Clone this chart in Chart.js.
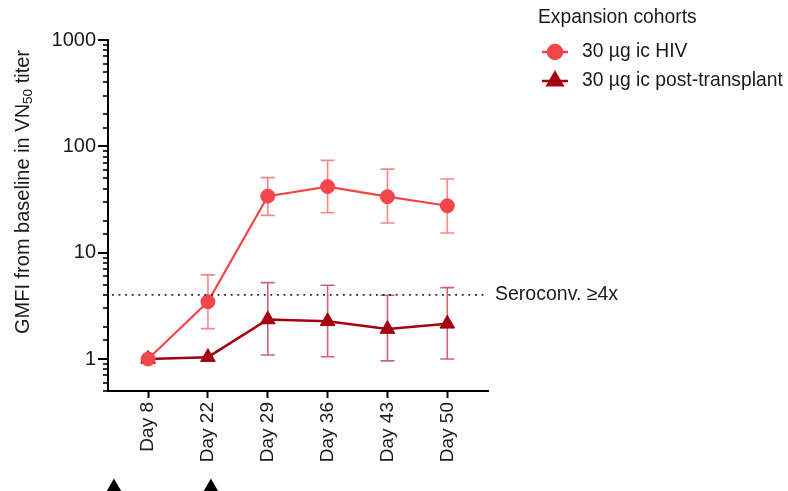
<!DOCTYPE html>
<html>
<head>
<meta charset="utf-8">
<script src="https://cdn.jsdelivr.net/npm/chart.js@4"></script>
<style>
  html, body { margin: 0; background: #fff; }
</style>
</head>
<body>
<canvas id="chart" width="788" height="491"></canvas>
<script>
const days = ['Day 8', 'Day 22', 'Day 29', 'Day 36', 'Day 43', 'Day 50'];
const hivMean = [1.0, 3.45, 34.0, 41.8, 33.6, 27.6];
const hivLow  = [null, 1.93, 22.4, 23.7, 19.0, 15.3];
const hivHigh = [null, 6.18, 50.8, 73.8, 61.0, 49.3];
const ptMean = [1.0, 1.04, 2.35, 2.26, 1.91, 2.14];
const ptLow  = [null, null, 1.09, 1.05, 0.96, 1.0];
const ptHigh = [null, null, 5.23, 4.93, 3.97, 4.69];
const yTickLabels = [1, 10, 100, 1000];
const seroThreshold = 4;
const doseMarks = [-0.57, 1.05]; // dose arrows below the axis, in day-slot units

const FONT = "'Liberation Sans', Arial, sans-serif";
const INK = '#1a1a1a';
const HIV_RED = '#f2464a';
const PT_RED = '#a30012';

Chart.defaults.font.family = FONT;
Chart.defaults.font.size = 19;
Chart.defaults.color = INK;

function toPoints(arr) {
    return arr.map((v, i) => ({ x: i, y: v }));
}

const errorBars = {
    id: 'errorBars',
    beforeDatasetsDraw(chart) {
        const { ctx } = chart;
        const xs = chart.scales.x, ys = chart.scales.y;
        const sets = [
            { low: ptLow, high: ptHigh, color: 'rgba(163,0,18,0.6)' },
            { low: hivLow, high: hivHigh, color: 'rgba(242,70,74,0.65)' }
        ];
        ctx.save();
        ctx.lineWidth = 1.6;
        sets.forEach(s => {
            ctx.strokeStyle = s.color;
            s.low.forEach((lo, i) => {
                if (lo == null) return;
                const x = xs.getPixelForValue(i);
                const y1 = ys.getPixelForValue(lo);
                const y2 = ys.getPixelForValue(s.high[i]);
                ctx.beginPath();
                ctx.moveTo(x, y1); ctx.lineTo(x, y2);
                ctx.moveTo(x - 7, y1); ctx.lineTo(x + 7, y1);
                ctx.moveTo(x - 7, y2); ctx.lineTo(x + 7, y2);
                ctx.stroke();
            });
        });
        ctx.restore();
    }
};

const decorations = {
    id: 'decorations',
    afterDraw(chart) {
        const { ctx, chartArea } = chart;
        const xs = chart.scales.x, ys = chart.scales.y;
        ctx.save();

        // log ticks on the y axis, long for decades
        ctx.strokeStyle = '#000';
        ys.ticks.forEach(t => {
            const major = yTickLabels.includes(Math.round(t.value * 1000) / 1000);
            const y = Math.round(ys.getPixelForValue(t.value));
            ctx.lineWidth = major ? 2 : 1.6;
            ctx.beginPath();
            ctx.moveTo(chartArea.left, y);
            ctx.lineTo(chartArea.left - (major ? 10 : 5), y);
            ctx.stroke();
        });

        // seroconversion threshold
        const ySero = ys.getPixelForValue(seroThreshold);
        ctx.strokeStyle = '#222';
        ctx.lineWidth = 1.8;
        ctx.setLineDash([1.8, 4.8]);
        ctx.beginPath();
        ctx.moveTo(chartArea.left + 4, ySero);
        ctx.lineTo(chartArea.right - 4, ySero);
        ctx.stroke();
        ctx.setLineDash([]);
        ctx.fillStyle = INK;
        ctx.font = '19.5px ' + FONT;
        ctx.textBaseline = 'middle';
        ctx.textAlign = 'left';
        ctx.fillText('Seroconv. \u22654x', chartArea.right + 7, ySero);

        // y title with subscript
        ctx.save();
        ctx.translate(23, 192);
        ctx.rotate(-Math.PI / 2);
        const big = '20px ' + FONT, small = '13.5px ' + FONT;
        const partA = 'GMFI from baseline in VN', sub = '50', partB = ' titer';
        ctx.font = big;
        const wA = ctx.measureText(partA).width, wB = ctx.measureText(partB).width;
        ctx.font = small;
        const wS = ctx.measureText(sub).width;
        let x0 = -(wA + wS + wB) / 2;
        ctx.font = big;
        ctx.fillText(partA, x0, 0);
        ctx.font = small;
        ctx.fillText(sub, x0 + wA, 5);
        ctx.font = big;
        ctx.fillText(partB, x0 + wA + wS, 0);
        ctx.restore();

        // legend
        ctx.font = '19.3px ' + FONT;
        ctx.fillStyle = INK;
        ctx.fillText('Expansion cohorts', 538, 18);
        const items = [
            { label: '30 \u00b5g ic HIV', color: HIV_RED, style: 'circle', r: 7, y: 52 },
            { label: '30 \u00b5g ic post-transplant', color: PT_RED, style: 'triangle', r: 8.5, y: 81 }
        ];
        items.forEach(it => {
            ctx.strokeStyle = it.color;
            ctx.fillStyle = it.color;
            ctx.lineWidth = 2.5;
            ctx.beginPath();
            ctx.moveTo(542, it.y); ctx.lineTo(568, it.y);
            ctx.stroke();
            Chart.helpers.drawPoint(ctx, { pointStyle: it.style, radius: it.r, borderWidth: 1, rotation: 0 }, 555, it.y);
            ctx.fillStyle = INK;
            ctx.fillText(it.label, 582, it.y);
        });

        // dose arrows
        ctx.fillStyle = '#000';
        ctx.strokeStyle = '#000';
        doseMarks.forEach(d => {
            Chart.helpers.drawPoint(ctx, { pointStyle: 'triangle', radius: 9, borderWidth: 1, rotation: 0 }, xs.getPixelForValue(d), 490);
        });

        ctx.restore();
    }
};

new Chart(document.getElementById('chart'), {
    type: 'line',
    data: {
        datasets: [
            {
                label: '30 \u00b5g ic HIV',
                data: toPoints(hivMean),
                borderColor: HIV_RED,
                backgroundColor: HIV_RED,
                borderWidth: 2.2,
                pointStyle: 'circle',
                pointRadius: 7,
                pointBorderWidth: 1,
                tension: 0
            },
            {
                label: '30 \u00b5g ic post-transplant',
                data: toPoints(ptMean),
                borderColor: PT_RED,
                backgroundColor: PT_RED,
                borderWidth: 2.5,
                pointStyle: 'triangle',
                pointRadius: 8.5,
                pointBorderWidth: 1,
                tension: 0
            }
        ]
    },
    options: {
        responsive: false,
        animation: false,
        layout: { padding: { top: 40, right: 300, left: 0, bottom: 0 } },
        plugins: { legend: { display: false }, tooltip: { enabled: false } },
        scales: {
            x: {
                type: 'linear',
                min: -0.67,
                max: 5.68,
                afterBuildTicks: s => { s.ticks = days.map((d, i) => ({ value: i })); },
                afterFit: s => { s.height = 100; },
                border: { color: '#000', width: 2 },
                grid: { drawOnChartArea: false, drawTicks: true, tickLength: 7, tickColor: '#000', tickWidth: 2 },
                ticks: {
                    autoSkip: false,
                    minRotation: 90,
                    maxRotation: 90,
                    padding: 4,
                    font: { size: 19 },
                    callback: v => days[v]
                }
            },
            y: {
                type: 'logarithmic',
                min: 0.5,
                max: 1000,
                afterFit: s => { s.width = 108; },
                border: { color: '#000', width: 2 },
                grid: { drawOnChartArea: false, drawTicks: false },
                ticks: {
                    autoSkip: false,
                    padding: 12,
                    font: { size: 20 },
                    callback: v => yTickLabels.includes(Math.round(v * 1000) / 1000) ? String(Math.round(v)) : ''
                }
            }
        }
    },
    plugins: [errorBars, decorations]
});
</script>
</body>
</html>
